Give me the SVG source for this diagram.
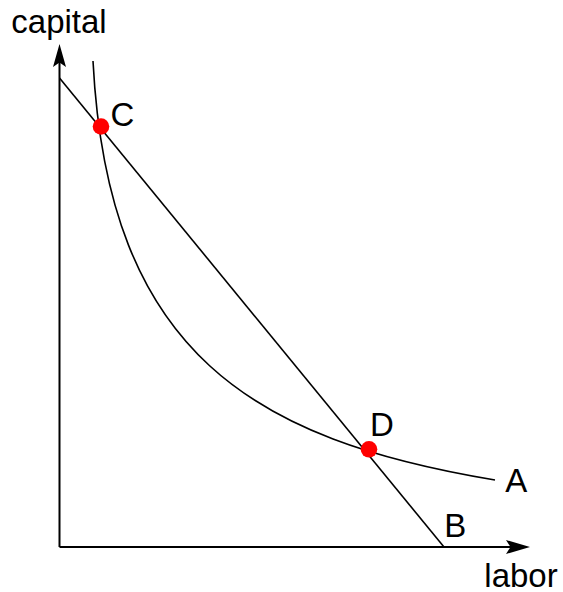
<svg xmlns="http://www.w3.org/2000/svg" width="563" height="592" viewBox="0 0 563 592">
<style>
text{font-family:"Liberation Sans",Arial,sans-serif;font-size:33px;fill:#000}
.ax{stroke:#000;stroke-width:2;fill:none}
.ln{stroke:#000;stroke-width:1.6;fill:none}
.dot{fill:#ff0000}
</style>
<rect width="563" height="592" fill="#fff"/>
<g id="axes">
<path class="ax" d="M59.5,547 V62"/>
<path class="ax" d="M59.5,547 H512"/>
<path d="M59.5,44 L66,67 L59.5,62.5 L53,67 Z" fill="#000"/>
<path d="M530,547 L506,540 L510.5,547 L506,554 Z" fill="#000"/>
</g>
<g id="connectors">
<path id="budget-line" class="ln" d="M59.5,78 L444,547"/>
<path id="isoquant" class="ln" d="M93,61 C108,355 255,440 495,480"/>
</g>
<g id="point-C"><circle class="dot" cx="101" cy="126.5" r="8.3"/></g>
<g id="point-D"><circle class="dot" cx="369" cy="449.3" r="8.3"/></g>
<g id="labels">
<text x="11.3" y="33.3">capital</text>
<text x="484.3" y="586.5">labor</text>
<text x="110.4" y="125.5">C</text>
<text x="370" y="436">D</text>
<text x="505.3" y="491.7">A</text>
<text x="444.2" y="537.3">B</text>
</g>
</svg>
